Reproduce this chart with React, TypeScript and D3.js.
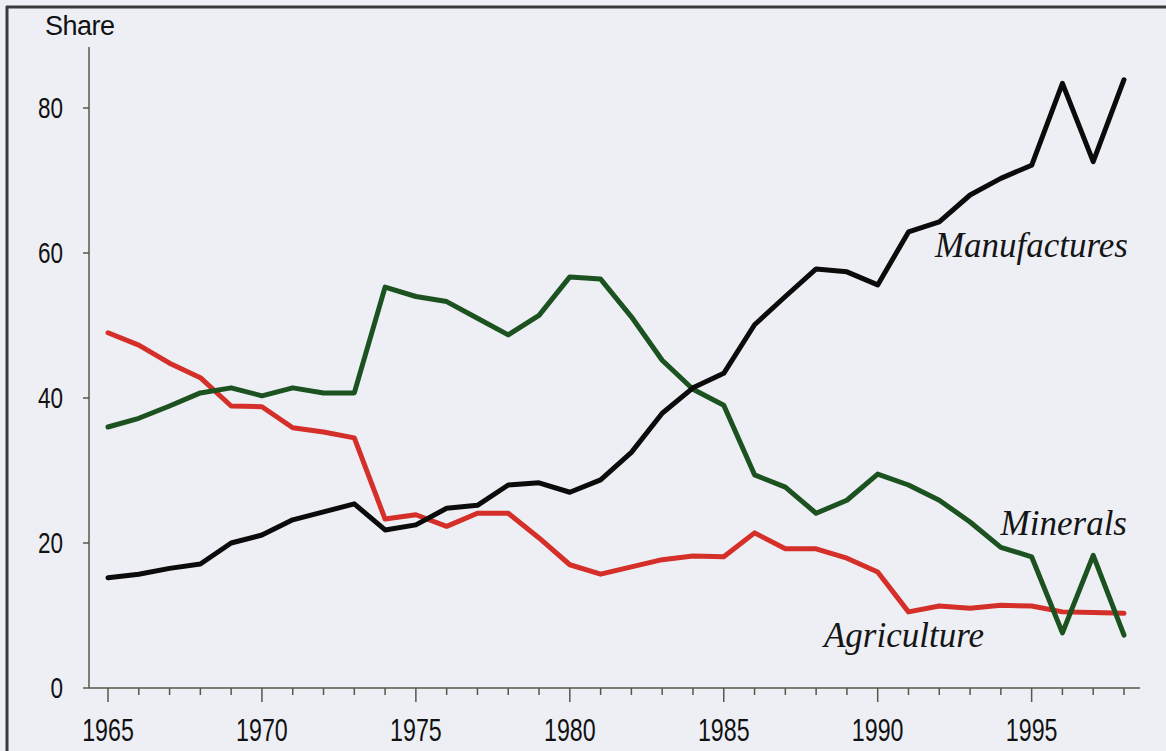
import React, { useEffect, useRef } from 'react';
import * as d3 from 'd3';

const years = d3.range(1965, 1999);

const manufactures = [
  15.2, 15.7, 16.5, 17.1, 20.0, 21.1, 23.2, 24.3, 25.4, 21.8,
  22.5, 24.8, 25.2, 28.0, 28.3, 27.0, 28.7, 32.5, 37.9, 41.4,
  43.4, 50.1, 54.0, 57.8, 57.4, 55.6, 62.9, 64.3, 68.0, 70.3,
  72.1, 83.4, 72.6, 83.9,
];

const minerals = [
  36.0, 37.2, 38.9, 40.7, 41.4, 40.3, 41.4, 40.7, 40.7, 55.3,
  54.0, 53.3, 51.0, 48.7, 51.4, 56.7, 56.4, 51.2, 45.2, 41.2,
  39.0, 29.4, 27.7, 24.1, 25.9, 29.5, 28.0, 25.9, 22.9, 19.4,
  18.1, 7.6, 18.3, 7.3,
];

const agriculture = [
  49.0, 47.3, 44.8, 42.8, 38.9, 38.8, 35.9, 35.3, 34.5, 23.3,
  23.9, 22.3, 24.1, 24.1, 20.7, 17.0, 15.7, 16.7, 17.7, 18.2,
  18.1, 21.4, 19.2, 19.2, 17.9, 16.0, 10.5, 11.3, 11.0, 11.4,
  11.3, 10.5, 10.4, 10.3,
];

const yTicks = [0, 20, 40, 60, 80];
const xLabels = [1965, 1970, 1975, 1980, 1985, 1990, 1995];

const series = [
  { name: 'Agriculture', values: agriculture, color: '#d42f28' },
  { name: 'Minerals', values: minerals, color: '#1b5220' },
  { name: 'Manufactures', values: manufactures, color: '#0b0b0b' },
];

const W = 1166;
const H = 751;

export default function App() {
  const ref = useRef<SVGSVGElement | null>(null);

  useEffect(() => {
    const svg = d3.select(ref.current);
    svg.selectAll('*').remove();

    const x = d3.scaleLinear().domain([1965, 1998]).range([108, 1124]);
    const y = d3.scaleLinear().domain([0, 80]).range([688, 108]);
    const axisX = 89;
    const numFont = '"Liberation Sans", Arial, sans-serif';
    const axisColor = '#55584a';

    svg.append('rect').attr('width', W).attr('height', H).attr('fill', '#edeff5');

    // frame left / top
    svg.append('line').attr('x1', 7).attr('x2', 7).attr('y1', 6).attr('y2', H)
      .attr('stroke', '#3a3a3a').attr('stroke-width', 3);
    svg.append('line').attr('x1', 6).attr('x2', W).attr('y1', 7).attr('y2', 7)
      .attr('stroke', '#3a3a3a').attr('stroke-width', 3);

    // y axis
    svg.append('line').attr('x1', axisX).attr('x2', axisX).attr('y1', 47).attr('y2', y(0))
      .attr('stroke', axisColor).attr('stroke-width', 1.5);
    const yt = svg.append('g');
    yTicks.forEach(t => {
      yt.append('line').attr('x1', axisX - 6).attr('x2', axisX).attr('y1', y(t)).attr('y2', y(t))
        .attr('stroke', axisColor).attr('stroke-width', 1.5);
      yt.append('text')
        .attr('transform', `translate(63,${y(t) + 10}) scale(0.75,1)`)
        .attr('text-anchor', 'end')
        .style('font-family', numFont)
        .style('font-size', '30px')
        .attr('fill', '#111')
        .text(t);
    });

    svg.append('text').attr('x', 45).attr('y', 35)
      .style('font-family', numFont).style('font-size', '27px').attr('fill', '#111')
      .attr('textLength', 70)
      .text('Share');

    // x axis
    svg.append('line').attr('x1', axisX).attr('x2', 1140).attr('y1', y(0)).attr('y2', y(0))
      .attr('stroke', axisColor).attr('stroke-width', 1.5);
    const xt = svg.append('g');
    years.forEach(yr => {
      const major = yr % 5 === 0;
      xt.append('line').attr('x1', x(yr)).attr('x2', x(yr))
        .attr('y1', y(0)).attr('y2', y(0) + (major ? 14 : 7))
        .attr('stroke', axisColor).attr('stroke-width', 1.5);
    });
    xLabels.forEach(yr => {
      xt.append('text')
        .attr('transform', `translate(${x(yr)},741) scale(0.75,1)`)
        .attr('text-anchor', 'middle')
        .style('font-family', numFont)
        .style('font-size', '31px')
        .attr('fill', '#111')
        .text(yr);
    });

    // lines
    const line = d3.line<number>()
      .x((_, i) => x(years[i]))
      .y(d => y(d));

    series.forEach(s => {
      svg.append('path')
        .datum(s.values)
        .attr('d', line)
        .attr('fill', 'none')
        .attr('stroke', s.color)
        .attr('stroke-width', 5)
        .attr('stroke-linejoin', 'round')
        .attr('stroke-linecap', 'round');
    });

    // labels
    const labels = [
      { text: 'Manufactures', x: 1128, y: 257 },
      { text: 'Minerals', x: 1127, y: 535 },
      { text: 'Agriculture', x: 984, y: 647 },
    ];
    labels.forEach(l => {
      svg.append('text')
        .attr('x', l.x).attr('y', l.y)
        .attr('text-anchor', 'end')
        .style('font-family', '"Liberation Serif", "Times New Roman", serif')
        .style('font-style', 'italic')
        .style('font-size', '35px')
        .attr('fill', '#151515')
        .text(l.text);
    });
  }, []);

  return (
    <svg
      ref={ref}
      width={W}
      height={H}
      style={{ position: 'fixed', left: 0, top: 0, display: 'block' }}
    />
  );
}
